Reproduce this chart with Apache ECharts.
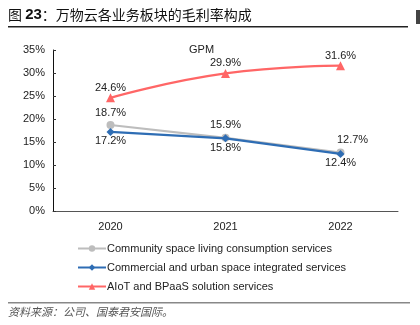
<!DOCTYPE html>
<html><head><meta charset="utf-8">
<script src="https://cdn.jsdelivr.net/npm/echarts@6/dist/echarts.min.js"></script>
<style>html,body{margin:0;padding:0;background:#fff}#c{width:420px;height:325px}</style>
</head><body><div id="c"></div>
<script>
const categories = ['2020', '2021', '2022'];
const seriesNames = ['Community space living consumption services', 'Commercial and urban space integrated services', 'AIoT and BPaaS solution services'];
const community = [18.7, 15.9, 12.7];
const commercial = [17.2, 15.8, 12.4];
const aiot = [24.6, 29.9, 31.6];
const yTicks = [0, 5, 10, 15, 20, 25, 30, 35];

const chart = echarts.init(document.getElementById('c'), null, {renderer: 'canvas'});
const lbl = {show: true, fontSize: 11, color: '#222', fontFamily: 'Liberation Sans, Arial, sans-serif', formatter: p => p.value.toFixed(1) + '%'};
chart.setOption({
  animation: false,
  title: {text: 'GPM', left: 184, top: 39, textStyle: {fontSize: 11, fontWeight: 'normal', color: '#222', fontFamily: 'Liberation Sans, Arial, sans-serif'}},
  grid: {left: 53, right: 22, top: 50, bottom: 114},
  legend: {
    orient: 'vertical', left: 72, top: 238, itemGap: 8, itemWidth: 28, itemHeight: 8,
    textStyle: {fontSize: 11, color: '#222', fontFamily: 'Liberation Sans, Arial, sans-serif', padding: [0,0,0,-4]},
    data: seriesNames
  },
  xAxis: {
    type: 'category', data: categories, boundaryGap: true,
    axisLine: {lineStyle: {color: '#555', width: 1}},
    axisTick: {inside: true, length: 3, lineStyle: {color: '#333'}},
    axisLabel: {fontSize: 11, color: '#222', margin: 10, fontFamily: 'Liberation Sans, Arial, sans-serif'}
  },
  yAxis: {
    type: 'value', min: 0, max: 35, interval: 5,
    axisLine: {show: true, lineStyle: {color: '#111', width: 1}},
    axisTick: {show: true, inside: true, length: 3, lineStyle: {color: '#333'}},
    splitLine: {show: false},
    axisLabel: {fontSize: 11, color: '#222', margin: 8, fontFamily: 'Liberation Sans, Arial, sans-serif', formatter: v => yTicks.includes(v) ? v + '%' : ''}
  },
  series: [
    {name: seriesNames[0], type: 'line', data: community.map((v, i) => i === 2 ? {value: v, label: {offset: [12, 0]}} : v),
     symbol: 'circle', symbolSize: 8, itemStyle: {color: '#BDBDBD'}, lineStyle: {color: '#BDBDBD', width: 2.2},
     label: Object.assign({position: 'top', distance: 3}, lbl), z: 2},
    {name: seriesNames[1], type: 'line', data: commercial,
     symbol: 'diamond', symbolSize: 8, itemStyle: {color: '#2E6DB4'}, lineStyle: {color: '#2E6DB4', width: 2.2},
     label: Object.assign({position: 'bottom', distance: 0}, lbl), z: 3},
    {name: seriesNames[2], type: 'line', data: aiot, smooth: true,
     symbol: 'triangle', symbolSize: 9, itemStyle: {color: '#FF6666'}, lineStyle: {color: '#FF6666', width: 2.2},
     label: Object.assign({position: 'top', distance: 0}, lbl), z: 4}
  ],
  graphic: [
    {type: 'text', left: 8, top: 7, style: {
      text: '{n|图 }{b|23}{n|：万物云各业务板块的毛利率构成}',
      rich: {
        n: {fontSize: 14, fontWeight: 'normal', fill: '#111', color: '#111', fontFamily: 'Noto Sans CJK SC'},
        b: {fontSize: 15, fontWeight: 'bold', fill: '#111', color: '#111', fontFamily: 'Liberation Sans, Arial, sans-serif'}
      }, fill: '#111', fontFamily: 'Noto Sans CJK SC'}},
    {type: 'rect', shape: {x: 8, y: 26, width: 400, height: 1.5}, style: {fill: '#222'}},
    {type: 'rect', shape: {x: 416, y: 10, width: 4, height: 14}, style: {fill: '#444'}},
    {type: 'rect', shape: {x: 8, y: 302, width: 402, height: 1.5}, style: {fill: '#888'}},
    {type: 'text', left: 8, top: 306, style: {text: '资料来源：公司、国泰君安国际。', fontSize: 11, fontStyle: 'italic', fill: '#555', fontFamily: 'Noto Sans CJK SC'}}
  ]
});
</script></body></html>
